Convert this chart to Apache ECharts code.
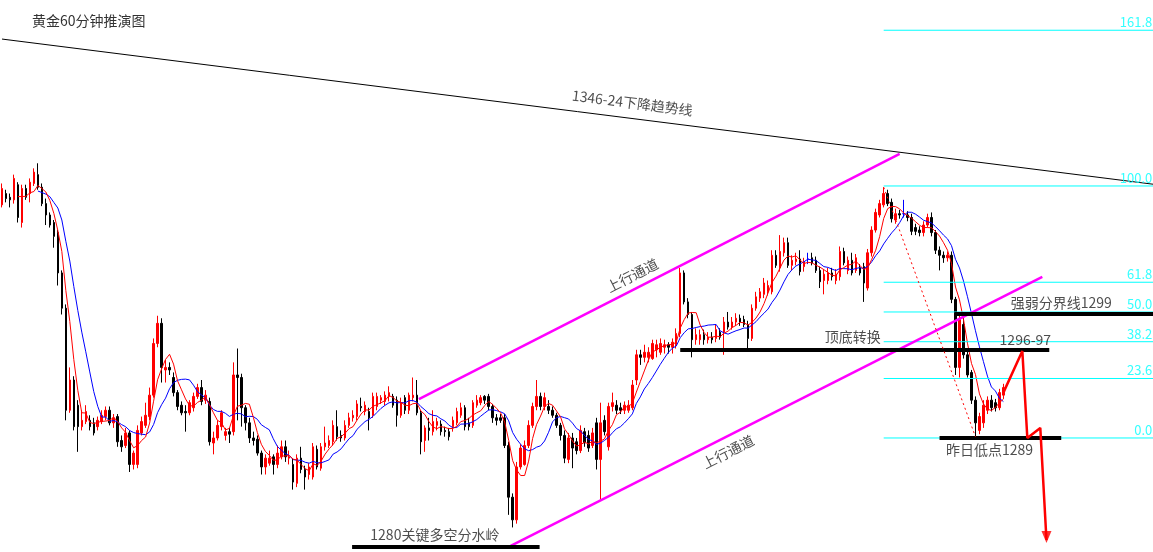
<!DOCTYPE html>
<html><head><meta charset="utf-8">
<script src="https://cdn.jsdelivr.net/npm/echarts@6/dist/echarts.min.js"></script>
<style>html,body{margin:0;padding:0;background:#fff}#c{width:1153px;height:552px}</style>
</head><body><div id="c"></div><script>
const titleText = '黄金60分钟推演图';

// 60-minute gold candles: open / close / low / high
const opens = [
1307.5,1308.4,1308.1,1307.9,1309.1,1306.1,1308.8,1308.4,1309.2,1309.9,
1308.9,1307.6,1306.7,1306.1,1305.3,1302.1,1299.3,1291.2,1293.6,1291.6,
1289.9,1290.3,1290.4,1290.2,1289.9,1290.3,1290.7,1291.2,1290.2,1290.7,
1288.8,1288.4,1289.4,1286.9,1286.9,1289.4,1290.0,1290.7,1292.4,1296.5,
1298.1,1294.4,1294.6,1293.8,1292.6,1291.6,1291.1,1291.0,1291.4,1292.3,
1293.0,1292.0,1291.9,1288.6,1289.0,1289.9,1289.2,1289.5,1289.5,1294.0,
1293.8,1291.4,1290.2,1289.0,1288.9,1287.8,1286.7,1287.0,1287.5,1286.9,
1287.5,1288.3,1287.4,1286.9,1285.4,1287.4,1286.5,1286.1,1285.9,1288.1,
1286.6,1288.3,1288.4,1288.7,1289.9,1289.2,1289.0,1290.0,1290.6,1290.7,
1291.5,1291.1,1291.1,1290.8,1291.5,1292.0,1291.9,1292.3,1292.3,1292.0,
1290.8,1292.2,1291.2,1292.2,1292.4,1291.0,1288.8,1289.8,1289.5,1290.0,
1290.1,1289.6,1289.5,1289.9,1290.2,1290.8,1291.4,1290.2,1290.0,1291.6,
1291.8,1292.3,1292.3,1291.5,1290.6,1290.6,1290.6,1288.4,1284.3,1282.5,
1286.7,1286.9,1288.4,1290.0,1291.5,1292.3,1291.5,1291.5,1291.2,1290.8,
1290.0,1289.2,1287.3,1289.0,1288.7,1288.0,1289.5,1289.2,1288.4,1290.2,
1287.3,1290.4,1288.3,1291.5,1291.6,1291.4,1291.2,1291.2,1291.4,1293.6,
1295.6,1295.4,1295.4,1295.3,1296.0,1295.8,1296.2,1296.4,1296.2,1296.4,
1297.3,1302.1,1299.8,1298.8,1296.8,1296.8,1297.2,1296.8,1297.0,1296.9,
1297.4,1297.4,1298.2,1297.8,1298.2,1298.5,1298.4,1298.0,1296.9,1299.3,
1300.1,1300.4,1300.6,1300.6,1303.5,1302.5,1303.7,1304.5,1302.7,1303.0,
1303.2,1302.6,1303.2,1303.3,1303.1,1302.3,1301.5,1301.5,1302.1,1301.5,
1301.8,1303.8,1302.3,1303.1,1302.3,1302.5,1302.6,1300.9,1303.7,1305.5,
1306.7,1307.5,1308.4,1307.7,1306.3,1306.8,1306.8,1306.7,1306.5,1305.7,
1305.5,1305.3,1305.9,1306.5,1305.3,1303.9,1303.5,1303.3,1303.5,1300.0,
1294.6,1298.0,1295.6,1294.2,1292.0,1289.6,1290.2,1291.2,1292.0,1291.8,
1291.4,1292.4
];
const closes = [
1308.8,1308.0,1307.9,1309.6,1306.5,1308.8,1308.1,1309.3,1310.1,1308.9,
1307.6,1306.7,1305.9,1305.0,1302.1,1299.3,1291.2,1293.6,1289.9,1289.9,
1290.4,1291.1,1289.9,1289.4,1290.4,1290.8,1291.2,1290.2,1290.6,1288.7,
1288.3,1289.4,1286.9,1287.8,1289.6,1290.3,1290.8,1292.4,1296.5,1298.1,
1294.6,1294.6,1294.4,1292.6,1291.5,1291.0,1291.0,1291.8,1292.3,1293.0,
1291.9,1292.4,1288.7,1289.0,1290.0,1291.0,1289.5,1289.3,1294.0,1293.8,
1291.4,1290.2,1289.0,1288.8,1287.8,1286.7,1287.4,1287.4,1286.9,1287.8,
1288.3,1287.5,1287.5,1285.5,1287.4,1286.5,1285.9,1286.7,1288.3,1286.7,
1288.3,1288.6,1288.8,1290.0,1289.1,1289.0,1290.0,1290.6,1290.8,1291.7,
1291.4,1291.6,1290.6,1292.3,1292.3,1292.2,1292.4,1292.6,1291.6,1290.8,
1291.8,1291.2,1292.4,1292.4,1291.0,1288.7,1289.8,1289.6,1290.3,1290.3,
1289.5,1289.5,1289.1,1290.4,1291.1,1291.4,1289.9,1289.9,1291.8,1292.0,
1292.2,1292.0,1291.5,1290.6,1290.4,1290.4,1288.4,1284.3,1282.5,1286.7,
1288.2,1288.4,1290.0,1291.5,1292.3,1291.5,1292.2,1291.2,1290.8,1290.0,
1289.2,1287.4,1289.0,1288.2,1288.0,1289.6,1288.6,1288.2,1289.4,1287.3,
1290.2,1289.5,1291.5,1291.8,1291.2,1291.2,1291.6,1291.6,1293.2,1295.6,
1295.4,1295.8,1295.8,1296.5,1296.4,1296.5,1296.4,1296.2,1296.6,1297.3,
1302.1,1299.8,1298.8,1296.8,1297.2,1297.2,1296.8,1297.0,1296.8,1297.6,
1297.0,1298.2,1297.8,1298.2,1298.5,1298.2,1298.0,1296.9,1299.3,1300.2,
1300.6,1301.3,1301.1,1303.5,1302.7,1303.8,1304.5,1302.7,1303.1,1303.2,
1302.2,1303.0,1303.2,1302.9,1302.3,1301.4,1302.0,1302.1,1301.8,1302.0,
1303.8,1302.9,1303.1,1302.1,1303.3,1302.1,1301.3,1303.7,1305.5,1306.9,
1307.6,1308.4,1307.6,1306.4,1306.8,1306.7,1306.8,1306.5,1305.4,1305.4,
1305.3,1305.9,1306.5,1305.3,1303.9,1303.5,1303.3,1303.5,1300.0,1294.6,
1298.4,1295.6,1294.0,1292.0,1290.2,1290.7,1291.6,1292.0,1291.4,1291.4,
1292.6,1293.0
];
const lows = [
1307.3,1307.7,1307.3,1307.6,1306.1,1305.7,1307.9,1307.7,1309.0,1308.7,
1307.4,1305.9,1305.7,1304.1,1301.1,1298.8,1290.4,1291.0,1289.6,1287.9,
1289.6,1290.1,1289.6,1289.2,1289.6,1290.1,1290.4,1290.0,1289.8,1288.3,
1287.9,1288.2,1286.3,1286.5,1286.6,1289.2,1289.8,1290.4,1292.2,1296.2,
1293.4,1293.4,1294.0,1292.3,1291.2,1290.8,1289.5,1290.8,1291.1,1292.1,
1291.6,1291.7,1288.4,1287.7,1288.8,1289.6,1288.8,1288.6,1289.2,1290.4,
1289.9,1289.6,1288.6,1288.4,1287.6,1286.1,1286.1,1286.8,1286.1,1286.6,
1287.3,1287.1,1286.9,1284.9,1285.1,1286.2,1284.9,1285.7,1285.7,1286.5,
1286.4,1288.0,1288.2,1288.4,1288.8,1288.7,1288.8,1289.8,1290.3,1290.4,
1291.1,1290.8,1289.6,1290.6,1291.2,1291.7,1291.6,1291.9,1291.4,1289.9,
1290.6,1290.9,1290.9,1291.9,1290.8,1287.7,1287.9,1288.8,1289.2,1289.6,
1289.2,1289.1,1288.8,1289.5,1290.0,1290.6,1289.6,1289.6,1289.8,1291.4,
1291.6,1291.7,1291.2,1290.2,1290.0,1290.2,1288.2,1282.9,1281.9,1282.2,
1286.5,1286.8,1288.2,1289.8,1291.2,1291.2,1291.2,1290.9,1290.6,1289.8,
1288.8,1287.0,1287.0,1286.6,1287.7,1287.8,1288.3,1287.9,1288.2,1286.5,
1284.1,1289.2,1288.0,1291.1,1290.9,1290.9,1290.9,1291.0,1291.2,1293.2,
1294.8,1295.0,1295.0,1295.2,1295.4,1295.6,1295.7,1295.7,1295.7,1296.1,
1297.0,1299.6,1298.5,1295.4,1296.4,1296.4,1296.4,1296.5,1296.5,1296.6,
1296.8,1295.6,1297.6,1297.6,1297.9,1297.9,1297.8,1296.0,1296.7,1299.1,
1299.8,1300.1,1300.3,1300.4,1302.5,1302.2,1303.4,1302.5,1302.3,1302.7,
1301.9,1302.2,1302.8,1302.7,1302.1,1300.9,1300.4,1301.2,1301.5,1301.2,
1301.5,1302.7,1302.0,1301.9,1302.1,1301.9,1299.8,1300.7,1303.4,1305.3,
1306.5,1307.3,1307.4,1306.1,1306.0,1306.4,1306.5,1306.2,1305.1,1305.1,
1305.0,1305.0,1305.7,1305.0,1303.6,1302.3,1302.9,1303.0,1299.7,1294.0,
1293.8,1295.3,1293.8,1291.7,1289.1,1289.3,1289.8,1290.9,1291.1,1291.1,
1291.2,1292.1
];
const highs = [
1309.2,1308.7,1308.4,1309.9,1309.3,1309.1,1309.1,1309.6,1310.4,1310.8,
1309.2,1308.0,1306.9,1306.3,1305.5,1302.3,1299.6,1294.6,1293.9,1292.0,
1291.2,1291.6,1290.8,1290.6,1290.7,1291.2,1291.5,1291.5,1290.9,1290.9,
1289.2,1289.8,1289.6,1288.0,1290.0,1290.7,1291.8,1293.0,1296.9,1298.7,
1298.5,1295.2,1295.0,1294.2,1292.8,1291.9,1291.6,1292.0,1292.6,1293.3,
1293.6,1292.8,1292.2,1289.5,1290.4,1291.2,1289.8,1289.8,1295.0,1296.1,
1294.1,1291.6,1290.6,1289.5,1289.2,1288.0,1287.7,1288.0,1287.7,1288.4,
1288.8,1288.8,1288.0,1287.4,1287.7,1288.3,1286.8,1287.0,1288.6,1288.4,
1288.6,1289.9,1289.2,1290.4,1291.2,1289.6,1290.4,1291.0,1291.2,1292.0,
1292.2,1291.9,1291.4,1292.6,1292.6,1292.4,1292.7,1293.1,1292.5,1292.3,
1292.2,1292.4,1292.6,1293.8,1293.6,1291.2,1290.0,1290.6,1291.2,1290.6,
1290.4,1289.9,1289.8,1290.7,1291.4,1291.8,1291.6,1290.6,1292.0,1292.4,
1292.4,1292.4,1292.5,1291.7,1290.9,1290.9,1290.9,1288.7,1284.6,1287.1,
1288.5,1288.8,1290.4,1291.8,1293.6,1292.6,1292.6,1292.0,1291.5,1291.0,
1290.2,1289.6,1289.4,1289.4,1289.0,1290.0,1289.8,1289.6,1289.8,1290.6,
1291.8,1290.8,1291.8,1292.6,1292.0,1291.8,1291.9,1292.0,1293.6,1296.0,
1296.0,1296.4,1296.2,1296.8,1296.8,1296.9,1296.8,1296.6,1296.9,1297.7,
1302.5,1302.3,1300.1,1299.0,1297.7,1297.6,1297.6,1297.4,1297.4,1298.0,
1297.7,1298.6,1299.0,1298.6,1298.9,1298.8,1298.7,1298.3,1299.6,1300.6,
1300.9,1301.7,1301.5,1303.9,1303.9,1305.1,1304.9,1304.9,1303.5,1303.7,
1303.9,1303.3,1303.7,1303.7,1303.4,1302.6,1302.4,1302.5,1302.5,1302.4,
1304.2,1304.1,1303.4,1303.7,1303.6,1302.8,1302.9,1304.0,1305.8,1307.2,
1307.9,1308.9,1308.7,1308.0,1307.2,1307.1,1307.9,1307.0,1306.8,1306.0,
1305.8,1306.2,1306.8,1306.9,1305.5,1304.2,1303.8,1303.8,1303.8,1300.2,
1298.7,1298.6,1295.9,1294.4,1292.3,1291.0,1292.0,1292.3,1292.4,1292.1,
1292.9,1293.3
];

// hourly slots (hidden category axis), incl. empty room for the projection
const SLOTS = 289;
const slotLabels = Array.from({length: SLOTS}, (_, i) => 'H' + i);

// moving-average periods of the two indicator lines
const MA_FAST = 5, MA_SLOW = 10;

// annotation lines: [slot index, price]
const downTrendLine   = [[0, 1320.66], [288.5, 1309.14]];
const channelUpper    = [[104.5, 1292.09], [225, 1311.54]];
const channelLower    = [[127.5, 1280.43], [260.75, 1301.78]];
const keyLine1280     = [[87.75, 1280.35], [134.75, 1280.35]];
const flipLine        = [[170, 1295.98], [262.5, 1295.98]];
const strongWeakLine  = [[238.75, 1298.84], [288.5, 1298.84]];
const prevLowLine     = [[235, 1289.0], [265.5, 1289.0]];
const retraceDash     = [[221, 1308.9], [244, 1289.1]];
const forecastPath    = [[251, 1292.6], [255.75, 1295.9], [257, 1289.0], [260.25, 1289.8], [261.8, 1280.9]];
const forecastArrow   = [261.8, 1281.15];

// Fibonacci retracement from 1289 low to 1309 high
const fibLevels = [0, 23.6, 38.2, 50, 61.8, 100, 161.8];
const fibLabels = ['0.0', '23.6', '38.2', '50.0', '61.8', '100.0', '161.8'];
const fibLow = 1289, fibHigh = 1309, fibFrom = 221, fibTo = 288.5, fibLabelAt = 288.45;

const notes = [
  {text: '1346-24下降趋势线', at: [158, 1315.6], rotate: -7.2},
  {text: '上行通道', at: [158, 1301.9], rotate: 27},
  {text: '上行通道', at: [182, 1287.9], rotate: 27},
  {text: '1280关键多空分水岭', at: [108.5, 1281.3], rotate: 0},
  {text: '顶底转换', at: [213.25, 1297.0], rotate: 0},
  {text: '1296-97', at: [256.5, 1296.8], rotate: 0},
  {text: '强弱分界线1299', at: [265.5, 1299.7], rotate: 0},
  {text: '昨日低点1289', at: [247.5, 1288.05], rotate: 0}
];

const Y_MIN = 1279.95, Y_MAX = 1323.76;
const FONT = '"Noto Sans CJK SC", "Noto Sans", sans-serif';

const candles = opens.map((o, i) => [o, closes[i], lows[i], highs[i]]);
function movingAverage(vals, n) {
  return vals.map((_, i) => {
    if (i < n - 1) return '-';
    let s = 0;
    for (let k = i - n + 1; k <= i; k++) s += vals[k];
    return +(s / n).toFixed(3);
  });
}

function seg(data, color, width, type) {
  return {type: 'line', xAxisIndex: 1, yAxisIndex: 0, data: data, symbol: 'none', silent: true,
    lineStyle: {color: color, width: width, type: type || 'solid'}, z: 4, animation: false};
}

const series = [
  {type: 'candlestick', data: candles, barWidth: 2, z: 2,
    itemStyle: {color: '#ff0000', color0: '#000000', borderColor: '#ff0000', borderColor0: '#000000',
      borderColorDoji: '#0000ff', borderWidth: 1}},
  {type: 'line', data: movingAverage(closes, MA_SLOW), symbol: 'none', z: 3,
    lineStyle: {color: '#0000ff', width: 1}},
  {type: 'line', data: movingAverage(closes, MA_FAST), symbol: 'none', z: 3,
    lineStyle: {color: '#ff0000', width: 1}}
];
fibLevels.forEach(lv => {
  const p = fibLow + (fibHigh - fibLow) * lv / 100;
  series.push(seg([[fibFrom, p], [fibTo, p]], '#00ffff', 1));
});
series.push(seg(downTrendLine, '#000000', 1));
series.push(seg(channelUpper, '#ff00ff', 2.5));
series.push(seg(channelLower, '#ff00ff', 2.5));
series.push(seg(keyLine1280, '#000000', 4));
series.push(seg(flipLine, '#000000', 4));
series.push(seg(strongWeakLine, '#000000', 4));
series.push(seg(prevLowLine, '#000000', 4));
series.push(seg(retraceDash, '#ff0000', 1, [2, 3]));
series.push(seg(forecastPath, '#ff0000', 2.5));
series.push({type: 'scatter', xAxisIndex: 1, data: [forecastArrow], symbol: 'triangle', symbolRotate: 180,
  symbolSize: [10, 12], itemStyle: {color: '#ff0000'}, z: 5, silent: true});
series.push({type: 'scatter', xAxisIndex: 1, symbolSize: 1, silent: true, z: 6, clip: false,
  itemStyle: {color: 'rgba(0,0,0,0)'},
  data: fibLevels.map((lv, i) => ({
    value: [fibLabelAt, fibLow + (fibHigh - fibLow) * lv / 100],
    label: {show: true, formatter: fibLabels[i], position: [0, -1], align: 'right', verticalAlign: 'bottom',
      fontSize: 13, color: '#00ffff', fontFamily: FONT}
  }))});
series.push({type: 'scatter', xAxisIndex: 1, symbolSize: 1, silent: true, z: 6,
  itemStyle: {color: 'rgba(0,0,0,0)'},
  data: notes.map(n => ({
    value: n.at,
    label: {show: true, formatter: n.text, rotate: n.rotate, position: 'inside', align: 'center',
      verticalAlign: 'middle', fontSize: 14, color: '#222', fontFamily: FONT}
  }))});

const chart = echarts.init(document.getElementById('c'), null, {renderer: 'canvas'});
chart.setOption({
  animation: false,
  backgroundColor: '#ffffff',
  title: {text: titleText, left: 32, top: 14, padding: 0,
    textStyle: {fontSize: 14, fontWeight: 'normal', color: '#333', fontFamily: FONT}},
  grid: {left: -2, top: 0, width: 1156, height: 552},
  xAxis: [
    {type: 'category', data: slotLabels, show: false, boundaryGap: true},
    {type: 'value', min: -0.5, max: SLOTS - 0.5, show: false}
  ],
  yAxis: {type: 'value', min: Y_MIN, max: Y_MAX, show: false, splitLine: {show: false}},
  series: series
});
</script></body></html>
